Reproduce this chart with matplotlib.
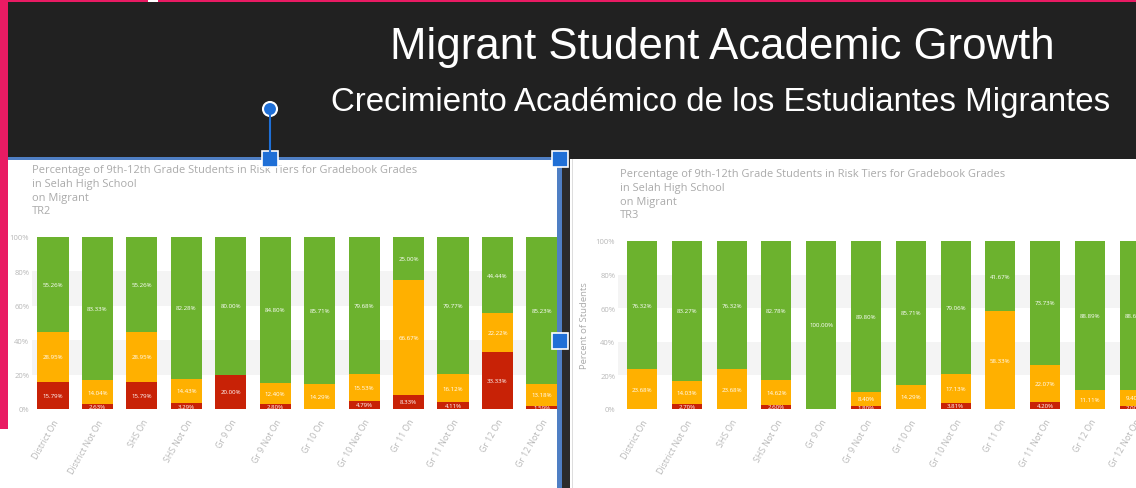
import matplotlib
matplotlib.use("Agg")
import matplotlib.pyplot as plt
from matplotlib.patches import Rectangle, Circle

W, H = 1136, 489

categories = ["District On", "District Not On", "SHS On", "SHS Not On", "Gr 9 On",
              "Gr 9 Not On", "Gr 10 On", "Gr 10 Not On", "Gr 11 On", "Gr 11 Not On",
              "Gr 12 On", "Gr 12 Not On"]

# TR2 (left chart)
tr2_red = [15.79, 2.63, 15.79, 3.29, 20.00, 2.80, 0.00, 4.79, 8.33, 4.11, 33.33, 1.59]
tr2_orange = [28.95, 14.04, 28.95, 14.43, 0.00, 12.40, 14.29, 15.53, 66.67, 16.12, 22.22, 13.18]
tr2_green = [55.26, 83.33, 55.26, 82.28, 80.00, 84.80, 85.71, 79.68, 25.00, 79.77, 44.44, 85.23]

# TR3 (right chart)
tr3_red = [0.00, 2.70, 0.00, 2.60, 0.00, 1.80, 0.00, 3.81, 0.00, 4.20, 0.00, 2.00]
tr3_orange = [23.68, 14.03, 23.68, 14.62, 0.00, 8.40, 14.29, 17.13, 58.33, 22.07, 11.11, 9.40]
tr3_green = [76.32, 83.27, 76.32, 82.78, 100.00, 89.80, 85.71, 79.06, 41.67, 73.73, 88.89, 88.60]

yticks = [0, 20, 40, 60, 80, 100]
ytick_labels = ["0%", "20%", "40%", "60%", "80%", "100%"]

title_main = "Migrant Student Academic Growth"
title_sub = "Crecimiento Académico de los Estudiantes Migrantes"
chart_title_left = ["Percentage of 9th-12th Grade Students in Risk Tiers for Gradebook Grades",
                    "in Selah High School", "on Migrant", "TR2"]
chart_title_right = ["Percentage of 9th-12th Grade Students in Risk Tiers for Gradebook Grades",
                     "in Selah High School", "on Migrant", "TR3"]

GREEN = "#6cb22e"
ORANGE = "#ffb000"
RED = "#c82206"
PINK = "#e91b63"
DARK = "#212121"
BLUE = "#1f6fd6"
TXT = "#aaaaaa"
TICK = "#b8b8b8"

fig = plt.figure(figsize=(W / 100, H / 100), dpi=100)
fig.patch.set_facecolor("white")


def px(x0, y0, x1, y1):
    return [x0 / W, 1 - y1 / H, (x1 - x0) / W, (y1 - y0) / H]


# background layer
bg = fig.add_axes([0, 0, 1, 1], zorder=0)
bg.set_xlim(0, W)
bg.set_ylim(H, 0)
bg.axis("off")
bg.add_patch(Rectangle((0, 0), W, 3, color=PINK, lw=0))
bg.add_patch(Rectangle((148, 0), 10, 3, color="white", lw=0))
bg.add_patch(Rectangle((8, 3), W - 8, 157, color=DARK, lw=0))
bg.add_patch(Rectangle((562, 160), 8, H - 160, color="#2b2b2b", lw=0))
bg.add_patch(Rectangle((572, 160), 1.2, H - 160, color="#dddddd", lw=0))
bg.text(722, 47, title_main, color="white", fontsize=31.5, ha="center", va="center",
        family="Liberation Sans")
bg.text(721, 102, title_sub, color="white", fontsize=23.8, ha="center", va="center",
        family="Liberation Sans")

for i, line in enumerate(chart_title_left):
    bg.text(32, 170 + i * 14, line, color=TXT, fontsize=7.9, ha="left", va="center",
            family="Open Sans")
for i, line in enumerate(chart_title_right):
    bg.text(620, 174 + i * 14, line, color=TXT, fontsize=7.9, ha="left", va="center",
            family="Open Sans")


def draw_chart(rect, xlim, width, red, orange, green, ylabel=None):
    ax = fig.add_axes(rect, zorder=1)
    ax.set_facecolor("none")
    x = list(range(len(categories)))
    ax.set_xlim(*xlim)
    ax.set_ylim(0, 100)
    ax.axhspan(60, 80, color="#f4f4f4", lw=0, zorder=0)
    ax.axhspan(20, 40, color="#f4f4f4", lw=0, zorder=0)
    bottoms2 = [r + o for r, o in zip(red, orange)]
    ax.bar(x, red, width=width, color=RED, zorder=2)
    ax.bar(x, orange, width=width, bottom=red, color=ORANGE, zorder=2)
    ax.bar(x, green, width=width, bottom=bottoms2, color=GREEN, zorder=2)
    for i in x:
        for val, base in ((red[i], 0), (orange[i], red[i]), (green[i], bottoms2[i])):
            if val > 0:
                ax.text(i, base + val / 2, f"{val:.2f}%", color="white", fontsize=4.4,
                        ha="center", va="center", zorder=3, family="Open Sans",
                        clip_on=True)
    ax.set_yticks(yticks)
    ax.set_yticklabels(ytick_labels)
    ax.set_xticks(x)
    ax.set_xticklabels(categories, rotation=60, ha="right", rotation_mode="anchor")
    ax.tick_params(axis="both", length=0, colors=TICK, labelsize=6.3)
    ax.tick_params(axis="y", pad=2, labelsize=5.5)
    ax.tick_params(axis="x", pad=6)
    for lab in ax.get_xticklabels() + ax.get_yticklabels():
        lab.set_family("Open Sans")
    for s in ax.spines.values():
        s.set_visible(False)
    if ylabel:
        ax.set_ylabel(ylabel, color=TXT, fontsize=6.8, family="Open Sans", labelpad=5)
    return ax


draw_chart(px(32, 238, 557, 410), (-0.472, 11.34), 0.70, tr2_red, tr2_orange, tr2_green)
draw_chart(px(618, 242, 1136, 410), (-0.536, 11.03), 0.67, tr3_red, tr3_orange, tr3_green,
           ylabel="Percent of Students")

# selection overlay
ov = fig.add_axes([0, 0, 1, 1], zorder=5)
ov.set_xlim(0, W)
ov.set_ylim(H, 0)
ov.axis("off")
ov.set_facecolor("none")
ov.add_patch(Rectangle((0, 0), 8, 430, color=PINK, lw=0))
ov.add_patch(Rectangle((8, 158), 552, 3, color="#4f7fc4", lw=0))
ov.add_patch(Rectangle((557, 158), 5, H - 158, color="#4f7fc4", lw=0))
ov.plot([270, 270], [112, 160], color=BLUE, lw=1.5)
ov.add_patch(Circle((270, 110), 7, facecolor=BLUE, edgecolor="white", lw=1.5))
for cx, cy in ((270, 160), (560, 160), (560, 342)):
    ov.add_patch(Rectangle((cx - 8, cy - 8), 16, 16, facecolor=BLUE, edgecolor="white", lw=1.2))

fig.savefig("out.png", dpi=100)
